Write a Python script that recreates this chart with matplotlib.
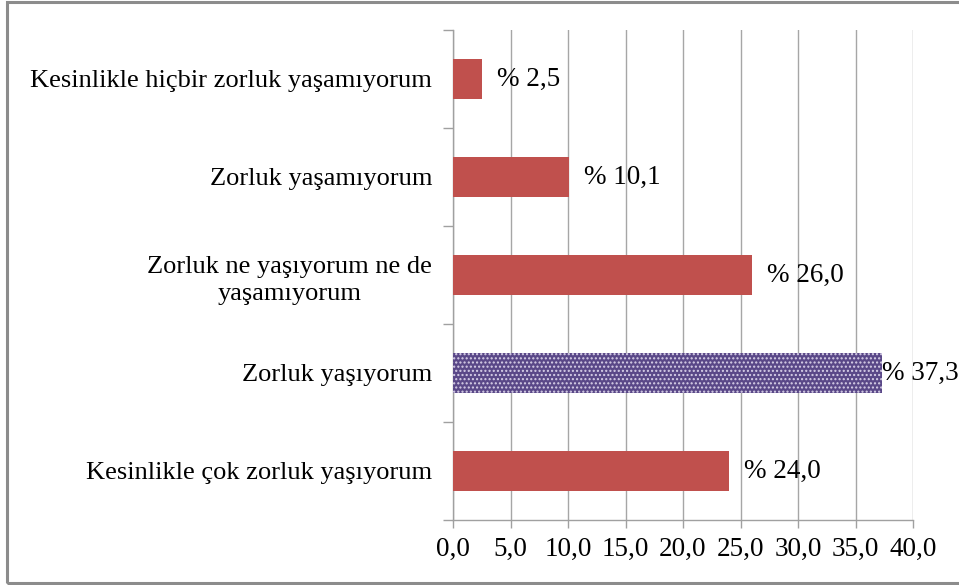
import matplotlib
matplotlib.use("Agg")
import matplotlib.pyplot as plt
from matplotlib.patches import Rectangle
from matplotlib.ticker import FuncFormatter, MultipleLocator
import numpy as np

categories = [
    "Kesinlikle çok zorluk yaşıyorum",
    "Zorluk yaşıyorum",
    "Zorluk ne yaşıyorum ne de\nyaşamıyorum",
    "Zorluk yaşamıyorum",
    "Kesinlikle hiçbir zorluk yaşamıyorum",
]
values = [24.0, 37.3, 26.0, 10.1, 2.5]
highlight = [False, True, False, False, False]
xticks = [0, 5, 10, 15, 20, 25, 30, 35, 40]

plt.rcParams['font.family'] = ['Liberation Serif', 'DejaVu Serif']
plt.rcParams['hatch.linewidth'] = 1.0

fig = plt.figure(figsize=(9.59, 5.85), dpi=100)
ax = fig.add_axes([453/959, 1-520/585, (913-453)/959, (520-30)/585])

y = np.arange(len(categories))
red = '#C0504D'
purple = '#5A4888'
for yi, v, h in zip(y, values, highlight):
    if h:
        ax.barh(yi, v, height=0.4, color=purple, edgecolor='#D8D0E8', hatch='....', linewidth=0, zorder=3)
    else:
        ax.barh(yi, v, height=0.4, color=red, linewidth=0, zorder=3)
    off = 0.0 if v > 35 else 1.3
    ax.text(v + off, yi, "% " + f"{v:.1f}".replace('.', ','), va='center', ha='left',
            fontsize=19.5, zorder=4, clip_on=False)

ax.set_xlim(0, 40)
ax.set_ylim(-0.5, len(categories) - 0.5)
ax.set_xticks(xticks)
ax.xaxis.set_major_formatter(FuncFormatter(lambda v, p: f"{v:.1f}".replace('.', ',')))
ax.set_yticks(y)
ax.set_yticklabels(categories, fontsize=19)
for lbl in ax.get_yticklabels():
    lbl.set_multialignment('center')
    lbl.set_linespacing(1.3)
ax.yaxis.set_minor_locator(MultipleLocator(1, offset=0.5))
ax.tick_params(axis='y', which='major', length=0, pad=15)
ax.tick_params(axis='y', which='minor', length=7, color='#A0A0A0', width=1)
ax.tick_params(axis='x', length=6, color='#A0A0A0', width=1, labelsize=19.5, pad=6)
ax.grid(axis='x', color='#A6A6A6', linewidth=1, zorder=0)
for s in ['top', 'right']:
    ax.spines[s].set_visible(False)
for s in ['left', 'bottom']:
    ax.spines[s].set_color('#A0A0A0')
    ax.spines[s].set_linewidth(1)

# outer frame (open on the right side, as in the reference)
fig.patches.append(Rectangle((7/959, 1-583/585), 1.2, (583-2)/585,
                             transform=fig.transFigure, fill=False,
                             edgecolor='#8C8C8C', linewidth=2.2, clip_on=False))

fig.savefig("out.png", dpi=100)
